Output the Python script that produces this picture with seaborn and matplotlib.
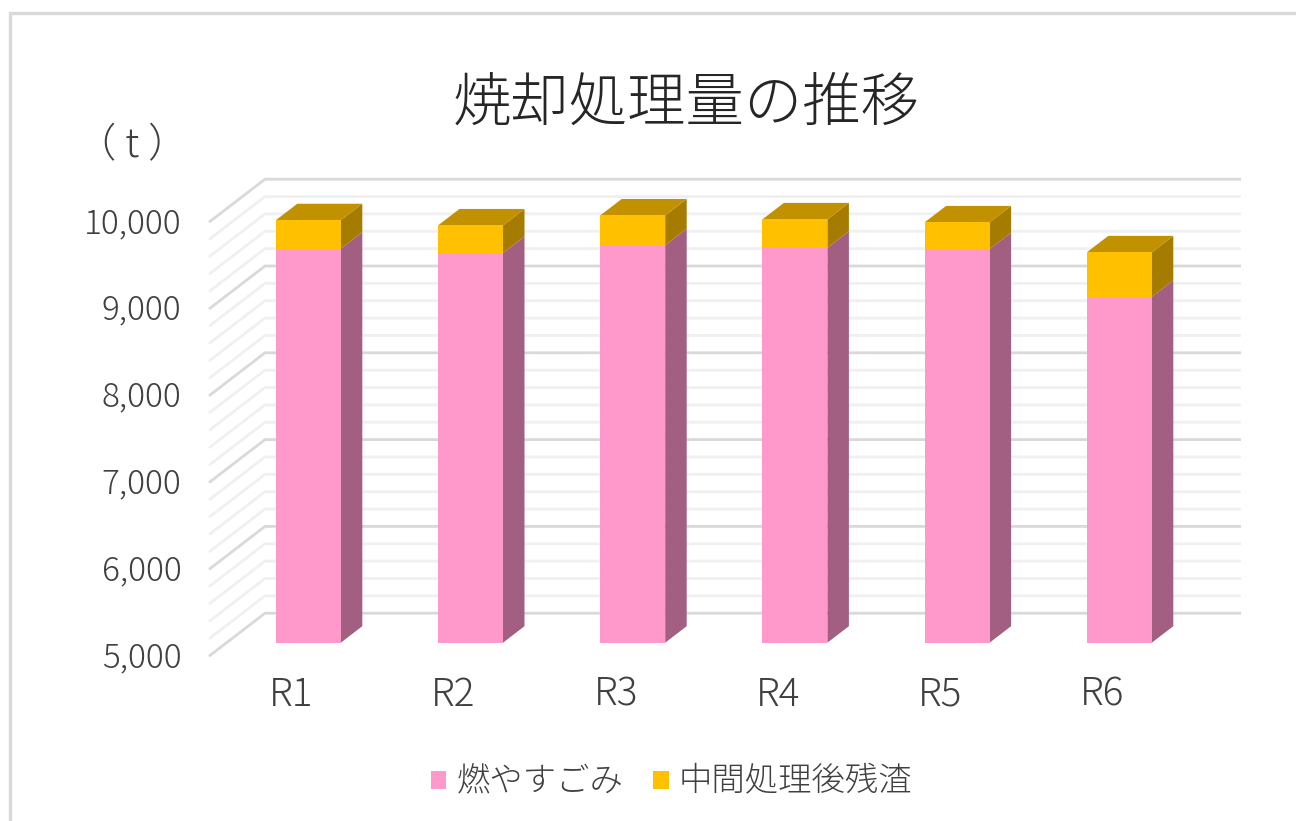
import numpy as np
import pandas as pd
import matplotlib
matplotlib.use("Agg")
import matplotlib.pyplot as plt
from matplotlib.lines import Line2D
from matplotlib.patches import Patch, Polygon
from matplotlib.transforms import ScaledTranslation
import seaborn as sns

# data
years = ["R1", "R2", "R3", "R4", "R5", "R6"]
moyasu = [9540, 9490, 9580, 9550, 9535, 8985]
zansa = [327, 317, 342, 327, 307, 512]
y_ticks = [5000, 6000, 7000, 8000, 9000, 10000]
y_labels = ["5,000", "6,000", "7,000", "8,000", "9,000", "10,000"]
title = "焼却処理量の推移"
unit = "（ t ）"
name_a = "燃やすごみ"
name_b = "中間処理後残渣"

sns.set_theme(style="white")
plt.rcParams["font.family"] = ["Noto Sans CJK JP", "DejaVu Sans"]
plt.rcParams["font.weight"] = "light"
TXT = "#404040"

W, H = 1296, 821
fig = plt.figure(figsize=(W / 100, H / 100), dpi=100, facecolor="white")

# axes geometry in pixels: one category = 162.2 px, 1000 units = 86.8 px
PX_CAT = 162.2
PX_VAL = 86.8 / 1000
left = 308.3 - PX_CAT / 2
right = left + 6 * PX_CAT
bottom = 642.7
top = bottom - 5000 * PX_VAL
ax = fig.add_axes([left / W, 1 - bottom / H, (right - left) / W, (bottom - top) / H])
ax.set_facecolor("none")

df = pd.DataFrame({"year": years, "a": moyasu, "b": zansa})
BAR_W = 65 / PX_CAT
sns.barplot(data=df, x="year", y="a", color="#FF99CC", saturation=1, width=BAR_W,
            linewidth=0, ax=ax, zorder=3)
sns.barplot(data=df, x="year", y="b", bottom=df["a"], color="#FFC000", saturation=1,
            width=BAR_W, linewidth=0, ax=ax, zorder=3)
ax.set_xlim(-0.5, 5.5)
ax.set_ylim(5000, 10000)
ax.set_xlabel("")
ax.set_ylabel("")
sns.despine(ax=ax, left=True, bottom=True)


def cx(px):
    return (px - 308.3) / PX_CAT


def dv(px):
    return px / PX_VAL


# walls: gridlines run from the front-left corner to the back wall, then right
for v in np.arange(5000, 10001, 200):
    major = v % 1000 == 0
    ax.plot([cx(209), cx(265), cx(1241)],
            [v - dv(13.5), v + dv(29.5), v + dv(29.5)],
            color="#d9d9d9" if major else "#f0f0f0", lw=2.0, clip_on=False, zorder=1,
            solid_joinstyle="miter", solid_capstyle="butt")

# 3-D faces of the bars
DX = 21.5 / PX_CAT
DY = dv(16.5)
hw = BAR_W / 2
for i, (a, b) in enumerate(zip(moyasu, zansa)):
    xr = i + hw
    xl = i - hw
    t = a + b
    ax.add_patch(Polygon([(xr, 5000), (xr + DX, 5000 + DY), (xr + DX, a + DY), (xr, a)],
                         fc="#A35F81", lw=0, clip_on=False, zorder=2.5))
    ax.add_patch(Polygon([(xr, a), (xr + DX, a + DY), (xr + DX, t + DY), (xr, t)],
                         fc="#A67C00", lw=0, clip_on=False, zorder=2.5))
    ax.add_patch(Polygon([(xl, t), (xl + DX, t + DY), (xr + DX, t + DY), (xr, t)],
                         fc="#C29100", lw=0, clip_on=False, zorder=2.5))

# tick labels
ax.set_yticks(y_ticks, y_labels)
ax.tick_params(axis="both", length=0)
ax.tick_params(axis="x", pad=23.5, labelsize=28, labelcolor=TXT)
ax.tick_params(axis="y", pad=33, labelsize=24, labelcolor=TXT)
for lab in ax.get_xticklabels():
    lab.set_transform(lab.get_transform() + ScaledTranslation(-0.17, 0, fig.dpi_scale_trans))
for lab in ax.get_yticklabels():
    lab.set_transform(lab.get_transform() + ScaledTranslation(0, -0.11, fig.dpi_scale_trans))

fig.text(686 / W, 1 - 104 / H, title, fontsize=42, color="#262626", ha="center", va="center")
fig.text(132 / W, 1 - 146 / H, unit, fontsize=29, color=TXT, ha="center", va="center")

handles = [Patch(fc="#FF99CC", lw=0, label=name_a), Patch(fc="#FFC000", lw=0, label=name_b)]
fig.legend(handles=handles, ncol=2, loc="center", bbox_to_anchor=(671.5 / W, 1 - 782.5 / H),
           frameon=False, fontsize=24, labelcolor=TXT, handlelength=0.47, handleheight=0.47,
           handletextpad=0.3, columnspacing=0.9, borderpad=0, borderaxespad=0)

# chart-area border (left and top edges visible)
fig.add_artist(Line2D([9.5 / W, 9.5 / W, 1], [0, 1 - 13.5 / H, 1 - 13.5 / H],
                      color="#d9d9d9", lw=2.4, solid_joinstyle="miter"))

fig.savefig("out.png", dpi=100)
